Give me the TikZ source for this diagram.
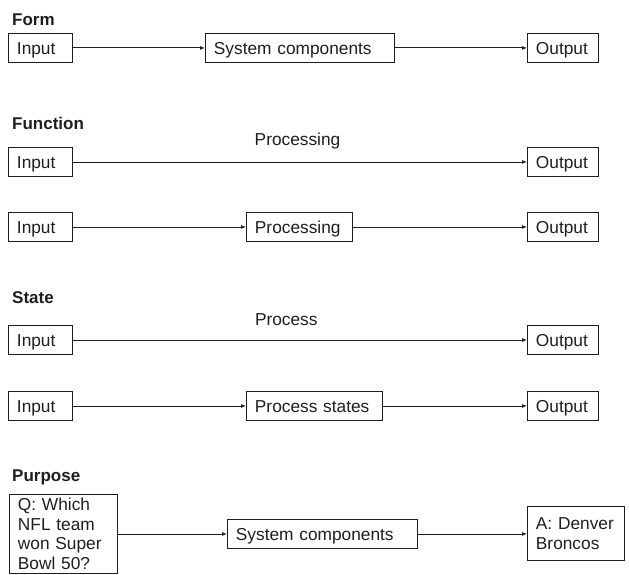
\documentclass[tikz,border=0pt]{standalone}
\usepackage{fontspec}
\setmainfont{Liberation Sans}
\usetikzlibrary{arrows.meta}
\definecolor{ink}{HTML}{1E1E1E}
\begin{document}
\begin{tikzpicture}[x=1pt,y=-1pt,
  every node/.style={text=ink},
  box/.style={draw=ink, line width=0.9pt, anchor=north west, inner xsep=8.5pt, inner ysep=0pt,
    align=left, font=\fontsize{17.3}{20}\selectfont, minimum height=29pt},
  one/.style={text height=13pt, text depth=0pt},
  head/.style={anchor=base west, inner sep=0pt, font=\fontsize{17}{20}\selectfont\bfseries},
  lbl/.style={anchor=base, inner sep=0pt, font=\fontsize{17.3}{20}\selectfont},
  conn/.style={draw=ink, line width=0.9pt, -{Latex[length=5pt,width=4pt]}}
]
\useasboundingbox (0,0) rectangle (629,575);

% Form
\node[head] (hForm) at (12,26) {Form};
\node[box, one, text width=47pt] (inA) at (8,33) {Input};
\node[box, one, text width=172pt] (sysA) at (205,33) {System components};
\node[box, one, text width=54pt] (outA) at (527,33) {Output};
\draw[conn] (inA) -- (sysA);
\draw[conn] (sysA) -- (outA);

% Function
\node[head] (hFunc) at (12,130) {Function};
\node[box, one, text width=47pt] (inB1) at (8,147) {Input};
\node[box, one, text width=54pt] (outB1) at (527,147) {Output};
\node[lbl] (lProc) at (297.5,146) {Processing};
\draw[conn] (inB1) -- (outB1);
\node[box, one, text width=47pt] (inB2) at (8,212) {Input};
\node[box, one, text width=89pt] (procB) at (246,212) {Processing};
\node[box, one, text width=54pt] (outB2) at (527,212) {Output};
\draw[conn] (inB2) -- (procB);
\draw[conn] (procB) -- (outB2);

% State
\node[head] (hState) at (12,303) {State};
\node[box, one, text width=47pt] (inC1) at (8,325) {Input};
\node[box, one, text width=54pt] (outC1) at (527,325) {Output};
\node[lbl] (lProcess) at (286.3,325) {Process};
\draw[conn] (inC1) -- (outC1);
\node[box, one, text width=47pt] (inC2) at (8,391) {Input};
\node[box, one, text width=119pt] (procC) at (246,391) {Process states};
\node[box, one, text width=54pt] (outC2) at (527,391) {Output};
\draw[conn] (inC2) -- (procC);
\draw[conn] (procC) -- (outC2);

% Purpose
\node[head] (hPurp) at (12,481) {Purpose};
\node[box, text width=91pt, minimum height=79pt, font=\fontsize{17.3}{19.6}\selectfont] (q) at (9,494)
  {Q: Which\\NFL team\\won Super\\Bowl 50?};
\node[box, one, text width=173pt] (sysD) at (227,519) {System components};
\node[box, text width=80pt, minimum height=54pt, font=\fontsize{17.3}{20.5}\selectfont] (ans) at (527,506)
  {A: Denver\\Broncos};
\draw[conn] (q.east |- sysD.west) -- (sysD.west);
\draw[conn] (sysD.east) -- (ans.west |- sysD.east);
\end{tikzpicture}
\end{document}
